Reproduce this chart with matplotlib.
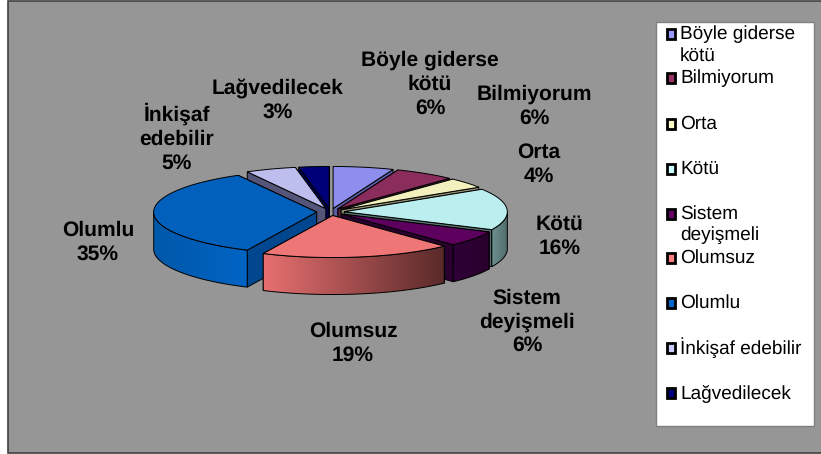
#!/usr/bin/env python
"""
Exploded 3D style pie of survey answers, drawn on a pixel sized axes
"""
import numpy as np
import matplotlib
matplotlib.use("Agg")
import matplotlib.pyplot as plt
from matplotlib.colors import LinearSegmentedColormap
from matplotlib.patches import Polygon, Rectangle

values = [6, 6, 4, 16, 6, 19, 35, 5, 3]

legend_lines = ["Böyle giderse\nkötü", "Bilmiyorum", "Orta", "Kötü",
                "Sistem\ndeyişmeli", "Olumsuz", "Olumlu", "İnkişaf edebilir",
                "Lağvedilecek"]
label_lines = ["Böyle giderse\nkötü", "Bilmiyorum", "Orta", "Kötü",
               "Sistem\ndeyişmeli", "Olumsuz", "Olumlu", "İnkişaf\nedebilir",
               "Lağvedilecek"]

legend_colors = ["#9999FF", "#993366", "#FFFFCC", "#CCFFFF", "#660066",
                 "#FF8080", "#0066CC", "#CCCCFF", "#000080"]
top_colors = ["#8E8EEE", "#8A2C5C", "#F2F0BC", "#BBEEEE", "#5E005E",
              "#EE7676", "#0060BC", "#BDBDEE", "#000078"]
side_colors = ["#5C5CA0", "#5C1F40", "#8F8F70", "#567070", "#2A0030",
               "#70302F", "#00478F", "#55557A", "#000050"]
wall_left = ["#7070C0", "#6A2448", "#A0A080", "#6E9090", "#300038",
             "#E87070", "#0058AA", "#7070A0", "#000060"]
wall_right = ["#5C5CA0", "#5C1F40", "#8F8F70", "#506A6A", "#28002C",
              "#5A2A2A", "#0064C4", "#55557A", "#000050"]

plt.rcParams['font.family'] = "Liberation Sans"
plt.rcParams['text.hinting'] = "no_hinting"
plt.rcParams['text.hinting_factor'] = 1

CX, CY = 330.5, 212.0
RX, RY = 163.0, 42.0
DEPTH = 37.0
EXPLODE = 0.085
EDGE = "#000000"


def ell(theta, ox, oy):
    # clockwise angle from the top of the pie, in degrees
    t = np.radians(theta)
    return ox + RX * np.sin(t), oy - RY * np.cos(t)


def draw_wedge(ax, i, a0, a1, z):
    mid = np.radians(0.5 * (a0 + a1))
    ox = CX + EXPLODE * RX * np.sin(mid)
    oy = CY - EXPLODE * RY * np.cos(mid)
    th = np.linspace(a0, a1, 120)
    x, y = ell(th, ox, oy)

    # radial walls first, back one before front one, the top and the outer
    # wall cover the hidden part
    for k in sorted((0, -1), key=lambda c: y[c]):
        pts = [(ox, oy), (x[k], y[k]), (x[k], y[k] + DEPTH), (ox, oy + DEPTH)]
        ax.add_patch(Polygon(pts, closed=True, fc=side_colors[i], ec=EDGE,
                             lw=0.7, zorder=z))

    # outer wall only where the rim faces the viewer
    t = np.mod(th, 360.0)
    front = (t >= 90.0) & (t <= 270.0)
    if front.any():
        xf, yf = x[front], y[front]
        pts = np.vstack([np.column_stack([xf, yf]),
                         np.column_stack([xf, yf + DEPTH])[::-1]])
        wall = Polygon(pts, closed=True, fc="none", ec=EDGE, lw=0.7,
                       zorder=z + 0.2)
        ax.add_patch(wall)
        cmap = LinearSegmentedColormap.from_list("w", [wall_left[i],
                                                       wall_right[i]])
        im = ax.imshow(np.linspace(0, 1, 256).reshape(1, -1), cmap=cmap,
                       extent=(xf.min(), xf.max(), yf.max() + DEPTH, yf.min()),
                       aspect="auto", zorder=z + 0.1)
        im.set_clip_path(wall)

    pts = np.vstack([[ox, oy], np.column_stack([x, y])])
    ax.add_patch(Polygon(pts, closed=True, fc=top_colors[i], ec=EDGE, lw=0.7,
                         zorder=z + 0.3))


def main():
    fig = plt.figure(figsize=(8.21, 4.54), dpi=100, facecolor="white")
    ax = fig.add_axes([0, 0, 1, 1])

    ax.add_patch(Rectangle((8, 0.5), 820, 452.5, fc="#969696", ec="#404040",
                           lw=1.2, zorder=0))

    ends = np.cumsum(values) / np.sum(values) * 360.0
    starts = np.concatenate([[0.0], ends[:-1]])
    mids = 0.5 * (starts + ends)
    order = np.argsort(-np.cos(np.radians(mids)))
    for n, i in enumerate(order):
        draw_wedge(ax, i, starts[i], ends[i], 1 + n)

    label_pos = [(430, 84), (534, 106), (539, 164), (560, 236), (527, 322),
                 (353, 343), (98, 242), (177, 138), (278, 100)]
    for name, val, (lx, ly) in zip(label_lines, values, label_pos):
        ax.text(lx, ly, "%s\n%d%%" % (name, val), ha="center", va="center",
                fontsize=15.3, fontweight="bold", linespacing=1.28,
                color="black", zorder=30)

    ax.add_patch(Rectangle((656, 22), 158, 404, fc="white", ec="#808080",
                           lw=1.0, zorder=20))
    legend_y = [34, 78, 124, 169, 214, 258, 303, 348, 393]
    for name, col, ly in zip(legend_lines, legend_colors, legend_y):
        ax.add_patch(Rectangle((666.5, ly - 5), 8.5, 9.5, fc=col, ec="black",
                               lw=2.0, zorder=21))
        ty = ly + 11 if "\n" in name else ly
        ax.text(680, ty, name, ha="left", va="center", fontsize=14.0,
                linespacing=1.25, color="black", zorder=21)

    ax.set_xlim(0, 821)
    ax.set_ylim(454, 0)
    ax.axis("off")
    fig.savefig("out.png", dpi=100)


if __name__ == "__main__":
    main()
